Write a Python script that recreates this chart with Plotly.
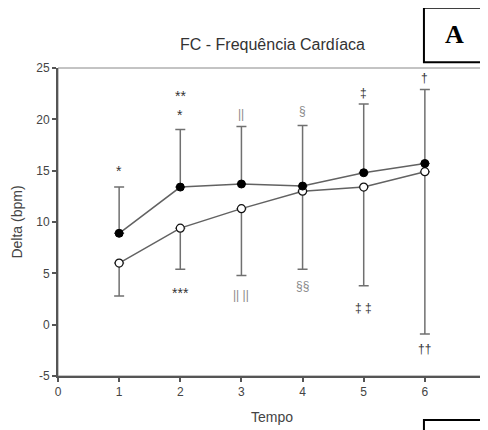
import plotly.graph_objects as go

tempo = [1, 2, 3, 4, 5, 6]
filled_mean = [8.9, 13.4, 13.7, 13.5, 14.8, 15.7]
filled_sd = [4.5, 5.6, 5.6, 5.9, 6.7, 7.2]
open_mean = [6.0, 9.4, 11.3, 13.0, 13.4, 14.9]
open_sd = [3.2, 4.0, 6.5, 7.6, 9.6, 15.8]

upper_labels = ["*", "*", "**", "||", "§", "‡", "†"]
upper_x = [1, 2, 2, 3, 4, 5, 6]
upper_y = [15.0, 20.4, 22.3, 20.5, 20.8, 22.6, 24.0]
upper_grey = [False, False, False, True, True, False, False]
upper_size = [14, 14, 14, 12, 12, 12, 12]

lower_labels = ["***", "|| ||", "§§", "‡ ‡", "††"]
lower_x = [2, 3, 4, 5, 6]
lower_y = [3.1, 2.9, 3.8, 1.6, -2.4]
lower_grey = [False, True, True, False, False]
lower_size = [14, 12, 12, 12, 12]

x_ticks = [0, 1, 2, 3, 4, 5, 6, 7]
y_ticks = [-5, 0, 5, 10, 15, 20, 25]

fig = go.Figure()

fig.add_trace(go.Scatter(
    x=tempo, y=open_mean, mode="lines+markers",
    line=dict(color="#626262", width=1.5),
    marker=dict(symbol="circle", size=8, color="white", line=dict(color="#111111", width=1.2)),
    error_y=dict(type="data", symmetric=False, array=[0] * len(open_sd), arrayminus=open_sd,
                 color="#707070", thickness=1.5, width=5),
    showlegend=False,
))
fig.add_trace(go.Scatter(
    x=tempo, y=filled_mean, mode="lines+markers",
    line=dict(color="#626262", width=1.5),
    marker=dict(symbol="circle", size=8, color="black", line=dict(color="black", width=1)),
    error_y=dict(type="data", symmetric=False, array=filled_sd, arrayminus=[0] * len(filled_sd),
                 color="#707070", thickness=1.5, width=5),
    showlegend=False,
))

for lab, xv, yv, g, sz in zip(upper_labels + lower_labels, upper_x + lower_x,
                              upper_y + lower_y, upper_grey + lower_grey,
                              upper_size + lower_size):
    fig.add_annotation(x=xv, y=yv, text=lab, showarrow=False,
                       xanchor="center", yanchor="middle",
                       font=dict(family="Liberation Sans, Arial", size=sz,
                                 color="#8a8a8a" if g else "#333333"))

# Title
fig.add_annotation(x=0.5, y=1.0, xref="paper", yref="paper", yshift=24,
                   xanchor="center", yanchor="middle",
                   text="FC - Frequência Cardíaca", showarrow=False,
                   font=dict(family="Liberation Sans, Arial", size=16, color="#333333"))

# Panel label box A
fig.add_shape(type="rect", xref="paper", yref="paper", x0=0.855, x1=1.0, y0=1.019, y1=1.196,
              line=dict(color="black", width=2), fillcolor="white")
fig.add_annotation(x=0.9275, y=1.1075, xref="paper", yref="paper", text="<b>A</b>", showarrow=False,
                   xanchor="center", yanchor="middle",
                   font=dict(family="Liberation Serif, Times New Roman", size=26, color="black"))
# bottom box (next panel)
fig.add_shape(type="rect", xref="paper", yref="paper", x0=0.855, x1=1.0, y0=-0.143, y1=-0.25,
              line=dict(color="black", width=2))

# thin frame top/right
fig.add_shape(type="rect", xref="paper", yref="paper", x0=0, x1=1, y0=0, y1=1,
              line=dict(color="#888888", width=1), layer="below")

fig.update_layout(
    width=480, height=422,
    margin=dict(l=50, r=2, t=60, b=54),
    paper_bgcolor="white", plot_bgcolor="white",
    font=dict(family="Liberation Sans, Arial", color="#444444", size=12),
    xaxis=dict(range=[0, 7], tickvals=x_ticks, ticktext=[str(v) for v in x_ticks],
               showgrid=False, zeroline=False, showline=True, linecolor="#555555", linewidth=2,
               ticks="outside", ticklen=4, tickcolor="#555555", tickwidth=1.5,
               title=dict(text="Tempo", font=dict(size=14, color="#444444"), standoff=14)),
    yaxis=dict(range=[-5, 25], tickvals=y_ticks, ticktext=[str(v) for v in y_ticks],
               showgrid=False, zeroline=False, showline=True, linecolor="#555555", linewidth=2,
               ticks="outside", ticklen=4, tickcolor="#555555", tickwidth=1.5,
               title=dict(text="Delta (bpm)", font=dict(size=14, color="#444444"), standoff=10)),
)

fig.write_html("out.html")
